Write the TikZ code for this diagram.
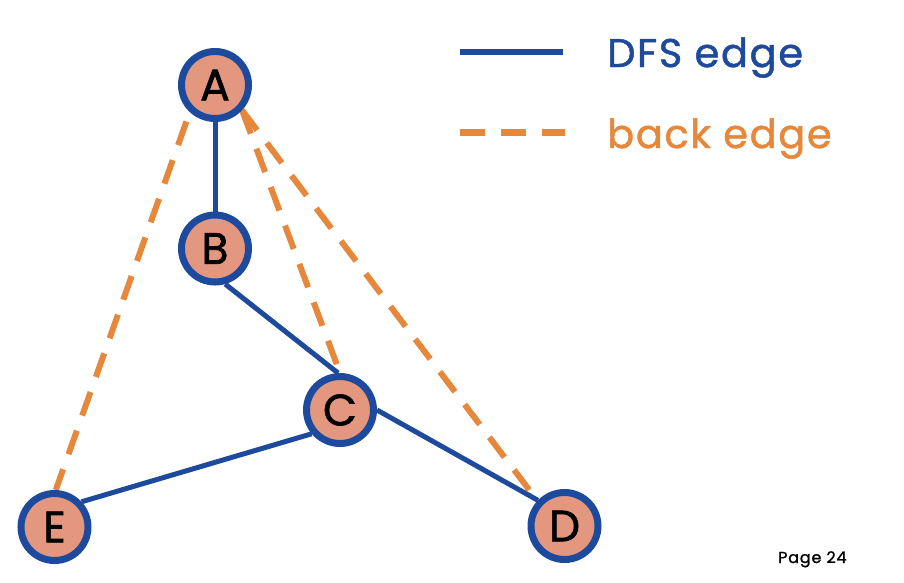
\documentclass[tikz,border=0pt]{standalone}
\usepackage{fontspec}
\setmainfont{Poppins}
\newfontfamily\legfont{Poppins}[FakeBold=1.2, LetterSpace=4]
\newfontfamily\nodefont{Poppins}[FakeBold=1.5]
\newfontfamily\pagefont{Poppins}[FakeBold=1.2, LetterSpace=5]
\usetikzlibrary{backgrounds}
\definecolor{dfsblue}{HTML}{1D4A9C}
\definecolor{backorange}{HTML}{E6883C}
\definecolor{nodefill}{HTML}{E3977F}
\tikzset{
  vert/.style={circle, draw=dfsblue, line width=7pt, fill=nodefill, minimum size=67pt, inner sep=0pt, font=\nodefont\fontsize{44}{44}\selectfont, text=black},
  dfsedge/.style={draw=dfsblue, line width=5pt},
  backedge/.style={draw=backorange, line width=6pt, dash pattern=on 25pt off 16pt},
  legtext/.style={anchor=base west, inner sep=0pt, font=\legfont\fontsize{40}{40}\selectfont},
}
\begin{document}
\begin{tikzpicture}[x=1pt,y=-1pt]
\useasboundingbox (0,0) rectangle (904,582);
\node[vert] (A) at (215,85) {A};
\node[vert] (B) at (215,248.5) {B};
\node[vert] (C) at (340,410) {C};
\node[vert] (E) at (54.5,527) {E};
\node[vert] (D) at (564.5,526) {D};
\begin{pgfonlayer}{background}
\draw[dfsedge] (A) -- (B);
\draw[dfsedge] (B.-74) -- (C.93);
\draw[dfsedge] (C.220) -- (E.43);
\draw[dfsedge] (C.east) -- (D.136);
\draw[backedge, dash phase=31pt] (A.-133) -- (E.88);
\draw[backedge] (A.-43) -- (C.north);
\draw[backedge] (A.-43) -- (D.137);
\end{pgfonlayer}
\coordinate (l1a) at (460,52);
\coordinate (l1b) at (563,52);
\coordinate (l2a) at (460,132);
\coordinate (l2b) at (565,132);
\draw[draw=dfsblue, line width=6.5pt] (l1a) -- (l1b);
\draw[draw=backorange, line width=7pt, dash pattern=on 25pt off 16pt] (l2a) -- (l2b);
\node[legtext, text=dfsblue] (t1) at (607,67) {DFS edge};
\node[legtext, text=backorange] (t2) at (607,148) {back edge};
\node[anchor=base west, inner sep=0pt, font=\pagefont\fontsize{16}{16}\selectfont] (pg) at (778,563) {Page 24};
\end{tikzpicture}
\end{document}
